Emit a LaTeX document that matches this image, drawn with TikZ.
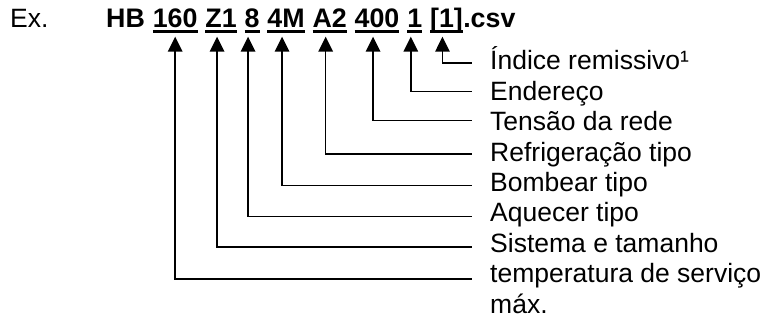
\documentclass[tikz,border=0pt]{standalone}
\usepackage{fontspec}
\setmainfont{Liberation Sans}
\usetikzlibrary{arrows.meta}
\newcommand{\myul}[1]{\setbox0\hbox{#1}\rlap{\rule[-5.3pt]{\wd0}{2.4pt}}\box0}
\begin{document}
\begin{tikzpicture}[x=1pt,y=-1pt,
  txt/.style={inner sep=0pt, anchor=base west, font=\fontsize{26.5}{30.4}\selectfont},
  code/.style={inner sep=0pt, anchor=base west, font=\fontsize{26.8}{30.4}\selectfont\bfseries},
  lead/.style={line width=1.6pt, -{Triangle[width=14.5pt,length=15pt]}}]
\useasboundingbox (0,0) rectangle (771,320);
% title
\node[txt] (ex) at (10,27.3) {Ex.};
\node[code] (hb) at (106,27.3) {HB};
\node[code] (c1) at ([xshift=7.5pt]hb.base east) {\myul{160}};
\node[code] (c2) at ([xshift=7.5pt]c1.base east) {\myul{Z1}};
\node[code] (c3) at ([xshift=7.5pt]c2.base east) {\myul{8}};
\node[code] (c4) at ([xshift=7.5pt]c3.base east) {\myul{4M}};
\node[code] (c5) at ([xshift=7.5pt]c4.base east) {\myul{A2}};
\node[code] (c6) at ([xshift=7.5pt]c5.base east) {\myul{400}};
\node[code] (c7) at ([xshift=7.5pt]c6.base east) {\myul{1}};
\node[code] (c8) at ([xshift=7.5pt]c7.base east) {\myul{[1]}};
\node[code] (csv) at (c8.base east) {.csv};
% labels
\node[txt] (l1) at (490,70) {Índice remissivo¹};
\node[txt] (l2) at (490,100.4) {Endereço};
\node[txt] (l3) at (490,130.8) {Tensão da rede};
\node[txt] (l4) at (490,161.2) {Refrigeração tipo};
\node[txt] (l5) at (490,191.6) {Bombear tipo};
\node[txt] (l6) at (490,222) {Aquecer tipo};
\node[txt] (l7) at (490,252.4) {Sistema e tamanho};
\node[txt] (l8) at (490,282.8) {temperatura de serviço};
\node[txt] (l9) at (490,313.2) {máx.};
% line ends
\coordinate (e1) at (471.7,63.3);
\coordinate (e2) at (471.7,91.7);
\coordinate (e3) at (471.7,120.5);
\coordinate (e4) at (471.7,154);
\coordinate (e5) at (471.7,185.7);
\coordinate (e6) at (471.7,216.7);
\coordinate (e7) at (471.7,247);
\coordinate (e8) at (471.7,279);
% leaders
\draw[lead] (e1) -| ([xshift=-4pt,yshift=-9.4pt]c8.base);
\draw[lead] (e2) -| ([xshift=-4pt,yshift=-9.4pt]c7.base);
\draw[lead] (e3) -| ([xshift=-4pt,yshift=-9.4pt]c6.base);
\draw[lead] (e4) -| ([xshift=-4pt,yshift=-9.4pt]c5.base);
\draw[lead] (e5) -| ([xshift=-4pt,yshift=-9.4pt]c4.base);
\draw[lead] (e6) -| ([xshift=-4pt,yshift=-9.4pt]c3.base);
\draw[lead] (e7) -| ([xshift=-4pt,yshift=-9.4pt]c2.base);
\draw[lead] (e8) -| ([yshift=-9.4pt]c1.base);
\end{tikzpicture}
\end{document}
